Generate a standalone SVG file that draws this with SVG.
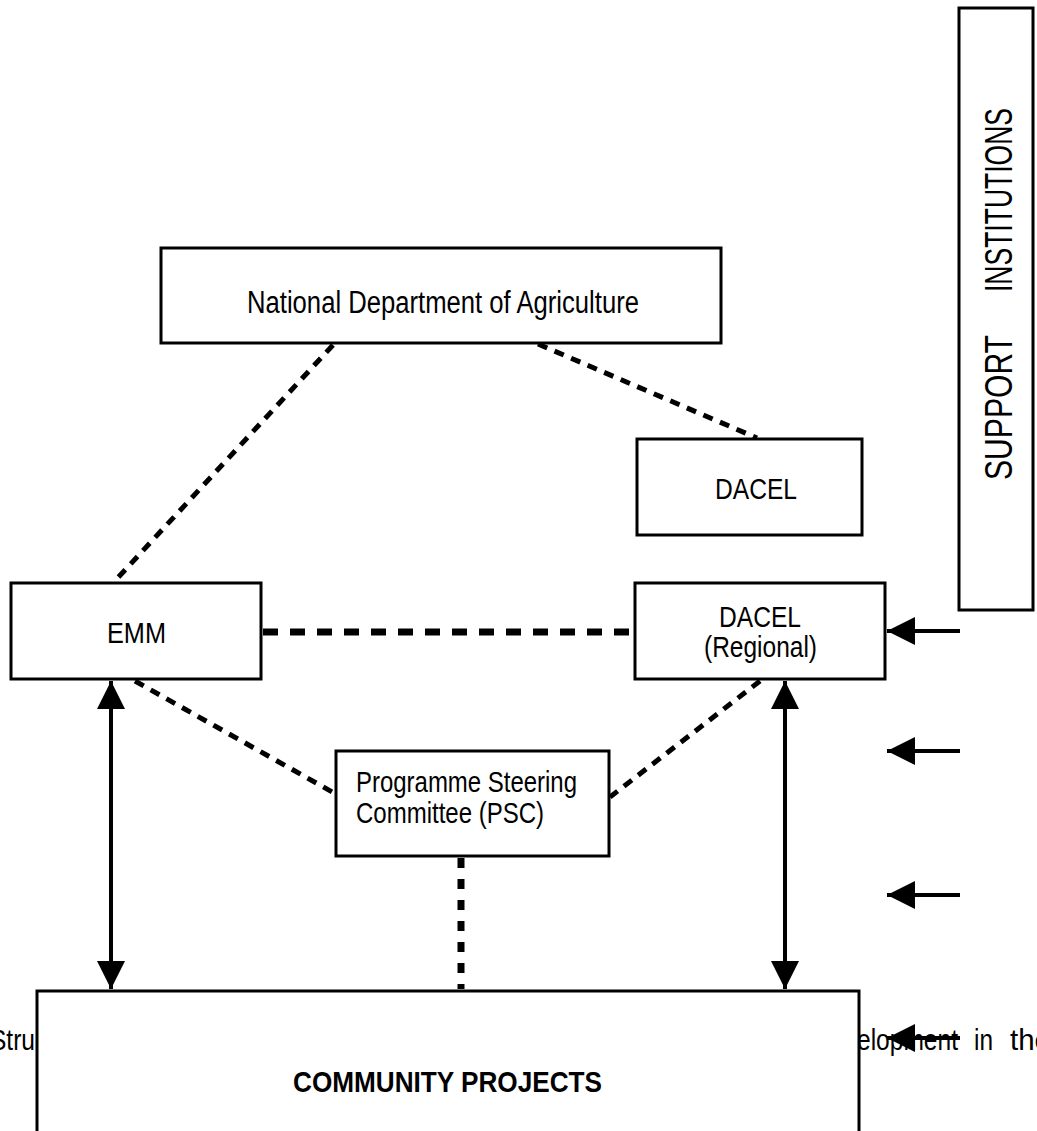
<svg xmlns="http://www.w3.org/2000/svg" width="1037" height="1131" viewBox="0 0 1037 1131">
<defs>
<style>
.box{fill:#fff;stroke:#000;stroke-width:3}
.t{font-family:"Liberation Sans",Arial,sans-serif;font-size:30px;fill:#000}
.b{font-weight:bold}
.dash{fill:none;stroke:#000;stroke-width:5;stroke-dasharray:10 8}
.dashH{fill:none;stroke:#000;stroke-width:7;stroke-dasharray:15 12}
.dashV{fill:none;stroke:#000;stroke-width:7;stroke-dasharray:10 11}
.arr{fill:none;stroke:#000;stroke-width:4}
</style>
<marker id="ah" viewBox="0 0 10 10" refX="10" refY="5" markerWidth="7" markerHeight="7" markerUnits="strokeWidth" orient="auto-start-reverse">
<path d="M0,0 L10,5 L0,10 z" fill="#000"/>
</marker>
</defs>
<rect width="1037" height="1131" fill="#fff"/>

<g id="caption">
<text class="t" x="-10" y="1050" textLength="45" lengthAdjust="spacingAndGlyphs">Stru</text>
<text class="t" x="857" y="1050" textLength="101" lengthAdjust="spacingAndGlyphs">elopment</text>
<text class="t" x="974" y="1050" textLength="19" lengthAdjust="spacingAndGlyphs">in</text>
<text class="t" x="1010" y="1050" textLength="41" lengthAdjust="spacingAndGlyphs">the</text>
</g>

<g id="connectors">
<line class="dash" x1="333" y1="345" x2="113" y2="583"/>
<line class="dash" x1="538" y1="344" x2="757" y2="438"/>
<line class="dashH" x1="263" y1="632" x2="634" y2="632"/>
<line class="dash" x1="135" y1="681" x2="334" y2="793"/>
<line class="dash" x1="760" y1="681" x2="610" y2="797"/>
<line class="dashV" x1="461" y1="858" x2="461" y2="989"/>
<line class="arr" x1="111" y1="681" x2="111" y2="989" marker-start="url(#ah)" marker-end="url(#ah)"/>
<line class="arr" x1="785" y1="681" x2="785" y2="989" marker-start="url(#ah)" marker-end="url(#ah)"/>
<line class="arr" x1="960" y1="631" x2="887" y2="631" marker-end="url(#ah)"/>
<line class="arr" x1="960" y1="751" x2="887" y2="751" marker-end="url(#ah)"/>
<line class="arr" x1="960" y1="895" x2="887" y2="895" marker-end="url(#ah)"/>
</g>

<g id="nda">
<rect class="box" x="161" y="248" width="560" height="95"/>
<text class="t" x="247" y="313" style="font-size:31px" textLength="392" lengthAdjust="spacingAndGlyphs">National Department of Agriculture</text>
</g>

<g id="dacel">
<rect class="box" x="637" y="439" width="225" height="96"/>
<text class="t" x="715" y="499" textLength="82" lengthAdjust="spacingAndGlyphs">DACEL</text>
</g>

<g id="support">
<rect class="box" x="959" y="8" width="74" height="602"/>
<text class="t" transform="translate(1012,480) rotate(-90)" style="font-size:38px" textLength="145" lengthAdjust="spacingAndGlyphs">SUPPORT</text>
<text class="t" transform="translate(1012,292) rotate(-90)" style="font-size:38px" textLength="184" lengthAdjust="spacingAndGlyphs">INSTITUTIONS</text>
</g>

<g id="emm">
<rect class="box" x="11" y="583" width="250" height="96"/>
<text class="t" x="107" y="643" textLength="59" lengthAdjust="spacingAndGlyphs">EMM</text>
</g>

<g id="dacel-regional">
<rect class="box" x="635" y="583" width="250" height="96"/>
<text class="t" x="719" y="627" textLength="82" lengthAdjust="spacingAndGlyphs">DACEL</text>
<text class="t" x="704" y="657" textLength="113" lengthAdjust="spacingAndGlyphs">(Regional)</text>
</g>

<g id="psc">
<rect class="box" x="336" y="751" width="273" height="105"/>
<text class="t" x="356" y="792" textLength="221" lengthAdjust="spacingAndGlyphs">Programme Steering</text>
<text class="t" x="356" y="823" textLength="188" lengthAdjust="spacingAndGlyphs">Committee (PSC)</text>
</g>

<g id="community">
<rect class="box" x="37" y="991" width="822" height="150"/>
<text class="t b" x="293" y="1092" textLength="309" lengthAdjust="spacingAndGlyphs">COMMUNITY PROJECTS</text>
</g>

<g id="arrow-over">
<line class="arr" x1="960" y1="1038" x2="887" y2="1038" marker-end="url(#ah)"/>
</g>
</svg>
